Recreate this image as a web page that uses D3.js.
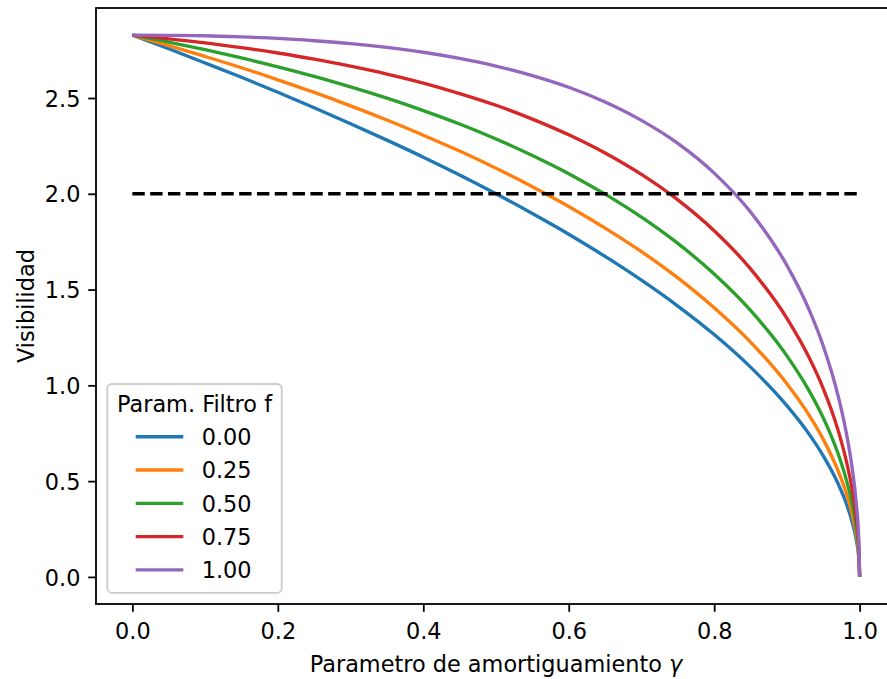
<!DOCTYPE html>
<html>
<head>
<meta charset="utf-8">
<script src="https://cdn.jsdelivr.net/npm/d3@7"></script>
<style>
    html, body { margin: 0; padding: 0; background: #ffffff; }
    svg { display: block; }
    text { font-family: "DejaVu Sans", sans-serif; fill: #000; }
</style>
</head>
<body>
<div id="chart"></div>
<script>
// damping parameter (x) and visibility for each filter value f
const gamma = [0, 0.05, 0.1, 0.15, 0.2, 0.25, 0.3, 0.35, 0.4, 0.45, 0.5, 0.55, 0.6, 0.65,
    0.7, 0.75, 0.8, 0.85, 0.9, 0.93, 0.95, 0.97, 0.98, 0.99, 0.995, 0.999, 1];

const visF000 = [2.828, 2.757, 2.683, 2.608, 2.530, 2.449, 2.366, 2.280, 2.191, 2.098, 2.000, 1.897, 1.789, 1.673,
    1.549, 1.414, 1.265, 1.095, 0.894, 0.748, 0.632, 0.490, 0.400, 0.283, 0.200, 0.089, 0];
const visF025 = [2.828, 2.774, 2.717, 2.658, 2.595, 2.529, 2.459, 2.385, 2.306, 2.223, 2.133, 2.037, 1.934, 1.821,
    1.698, 1.561, 1.405, 1.226, 1.008, 0.847, 0.718, 0.557, 0.456, 0.323, 0.228, 0.102, 0];
const visF050 = [2.828, 2.792, 2.752, 2.709, 2.663, 2.613, 2.558, 2.499, 2.434, 2.364, 2.286, 2.200, 2.105, 1.998,
    1.878, 1.741, 1.581, 1.391, 1.154, 0.975, 0.830, 0.647, 0.530, 0.376, 0.266, 0.119, 0];
const visF075 = [2.828, 2.809, 2.788, 2.763, 2.735, 2.703, 2.666, 2.625, 2.578, 2.523, 2.462, 2.390, 2.308, 2.213,
    2.101, 1.968, 1.807, 1.608, 1.350, 1.149, 0.983, 0.770, 0.632, 0.450, 0.319, 0.143, 0];
const visF100 = [2.828, 2.827, 2.825, 2.819, 2.811, 2.799, 2.784, 2.764, 2.739, 2.707, 2.667, 2.617, 2.556, 2.479,
    2.383, 2.263, 2.108, 1.905, 1.626, 1.399, 1.205, 0.951, 0.784, 0.560, 0.398, 0.179, 0];

const filterLabels = ["0.00", "0.25", "0.50", "0.75", "1.00"];
const seriesValues = [visF000, visF025, visF050, visF075, visF100];

// classical limit line
const limitGamma = [0, 1];
const limitValue = 2.0;

const xTicks = [0, 0.2, 0.4, 0.6, 0.8, 1.0];
const yTicks = [0, 0.5, 1.0, 1.5, 2.0, 2.5];

const colors = ["#1f77b4", "#ff7f0e", "#2ca02c", "#d62728", "#9467bd"];

const W = 887, H = 679;
const fontSize = 22.4;
const margin = { top: 8, left: 96 };
const plotW = 800, plotH = 596;

const svg = d3.select("#chart")
    .append("svg")
    .attr("width", W)
    .attr("height", H);

const g = svg.append("g")
    .attr("transform", `translate(${margin.left},${margin.top})`);

const x = d3.scaleLinear()
    .domain([-0.05, 1.05])
    .range([0, plotW]);
const y = d3.scaleLinear()
    .domain([-0.14142, 2.96985])
    .range([plotH, 0]);

const line = d3.line()
    .x(d => x(d[0]))
    .y(d => y(d[1]))
    .curve(d3.curveMonotoneX);

// curves
seriesValues.forEach((vals, i) => {
    g.append("path")
        .datum(gamma.map((gm, j) => [gm, vals[j]]))
        .attr("fill", "none")
        .attr("stroke", colors[i])
        .attr("stroke-width", 3.35)
        .attr("stroke-linejoin", "round")
        .attr("d", line);
});

// dashed limit
g.append("path")
    .datum(limitGamma.map(gm => [gm, limitValue]))
    .attr("fill", "none")
    .attr("stroke", "#000")
    .attr("stroke-width", 3.35)
    .attr("stroke-dasharray", "12.4,5.4")
    .attr("d", d3.line().x(d => x(d[0])).y(d => y(d[1])));

// spines
g.append("rect")
    .attr("x", 0).attr("y", 0)
    .attr("width", plotW).attr("height", plotH)
    .attr("fill", "none")
    .attr("stroke", "#000")
    .attr("stroke-width", 1.8);

// x axis
const xAxis = d3.axisBottom(x)
    .tickValues(xTicks)
    .tickFormat(d3.format(".1f"))
    .tickSize(7.8)
    .tickPadding(7.8);
const xg = g.append("g")
    .attr("transform", `translate(0,${plotH})`)
    .call(xAxis);
xg.select(".domain").remove();
xg.selectAll(".tick line").attr("stroke", "#000").attr("stroke-width", 1.8);
xg.selectAll(".tick text")
    .attr("font-family", "DejaVu Sans")
    .attr("font-size", fontSize)
    .attr("fill", "#000")
    .attr("dy", null)
    .attr("y", 35);

// y axis
const yAxis = d3.axisLeft(y)
    .tickValues(yTicks)
    .tickFormat(d3.format(".1f"))
    .tickSize(7.8)
    .tickPadding(7.8);
const yg = g.append("g").call(yAxis);
yg.select(".domain").remove();
yg.selectAll(".tick line").attr("stroke", "#000").attr("stroke-width", 1.8);
yg.selectAll(".tick text")
    .attr("font-family", "DejaVu Sans")
    .attr("font-size", fontSize)
    .attr("fill", "#000")
    .attr("dy", null)
    .attr("y", 8.2);

// axis labels
const xl = svg.append("text")
    .attr("x", margin.left + x(0.5))
    .attr("y", 672)
    .attr("text-anchor", "middle")
    .attr("font-size", fontSize);
xl.append("tspan").text("Parametro de amortiguamiento ");
xl.append("tspan").attr("font-style", "italic").text("γ");

svg.append("text")
    .attr("transform", `translate(34,${margin.top + plotH / 2}) rotate(-90)`)
    .attr("text-anchor", "middle")
    .attr("font-size", fontSize)
    .text("Visibilidad");

// legend
const lg = svg.append("g").attr("transform", "translate(107.3,384)");
lg.append("rect")
    .attr("width", 174.4)
    .attr("height", 208.8)
    .attr("rx", 4.5).attr("ry", 4.5)
    .attr("fill", "#ffffff")
    .attr("fill-opacity", 0.8)
    .attr("stroke", "#cccccc")
    .attr("stroke-width", 1.8);
lg.append("text")
    .attr("x", 87.2)
    .attr("y", 27.7)
    .attr("text-anchor", "middle")
    .attr("font-size", fontSize)
    .attr("fill", "#000")
    .text("Param. Filtro f");

filterLabels.forEach((lab, i) => {
    const cy = 52.7 + i * 33.3;
    lg.append("line")
        .attr("x1", 28.4).attr("x2", 76)
        .attr("y1", cy).attr("y2", cy)
        .attr("stroke", colors[i])
        .attr("stroke-width", 3.35);
    lg.append("text")
        .attr("x", 94.4)
        .attr("y", cy + 8.2)
        .attr("font-size", fontSize)
        .attr("fill", "#000")
        .text(lab);
});
</script>
</body>
</html>
